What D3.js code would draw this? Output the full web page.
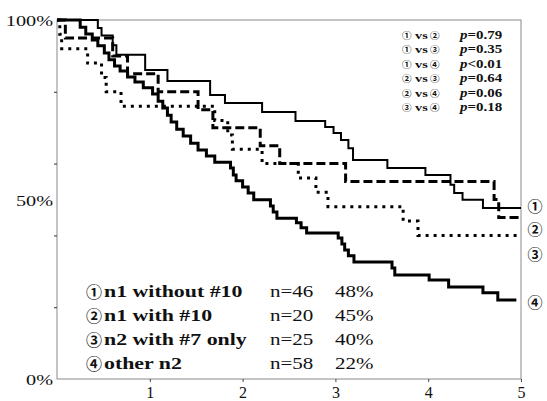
<!DOCTYPE html>
<html>
<head>
<meta charset="utf-8">
<script src="https://cdn.jsdelivr.net/npm/d3@7"></script>
<style>
  body { margin: 0; background: #fff; }
  text { font-family: "Liberation Serif", "Times New Roman", serif; fill: #111; }
  .circ { font-family: "Noto Sans CJK JP", "DejaVu Sans", sans-serif; }
</style>
</head>
<body>
<svg width="547" height="401"></svg>
<script>
// survival steps: [years, proportion surviving]
const group1 = [[0,1],[0.44,0.978],[0.48,0.957],[0.60,0.93],[0.64,0.903],[0.95,0.861],[1.19,0.83],
  [1.65,0.791],[1.81,0.769],[2.21,0.744],[2.57,0.719],[2.89,0.702],[2.98,0.685],[3.06,0.666],
  [3.14,0.643],[3.19,0.61],[3.56,0.588],[3.97,0.568],[4.24,0.541],[4.28,0.518],[4.37,0.499],
  [4.59,0.476],[5,0.476]];
const group2 = [[0,1],[0.09,0.95],[0.60,0.90],[0.76,0.85],[1.09,0.80],[1.52,0.75],[1.68,0.70],
  [2.19,0.65],[2.40,0.60],[3.11,0.55],[4.71,0.50],[4.76,0.45],[5,0.45]];
const group3 = [[0,1],[0.03,0.96],[0.05,0.92],[0.33,0.88],[0.48,0.84],[0.53,0.80],[0.69,0.76],
  [1.70,0.72],[1.84,0.68],[1.89,0.64],[2.21,0.60],[2.60,0.56],[2.79,0.52],[2.92,0.48],
  [3.73,0.44],[3.89,0.40],[5,0.40]];
const group4 = [[0,1],[0.25,0.98],[0.31,0.961],[0.38,0.944],[0.44,0.928],[0.51,0.908],[0.56,0.889],
  [0.62,0.872],[0.68,0.858],[0.76,0.841],[0.84,0.827],[0.93,0.811],[1.03,0.794],[1.09,0.774],
  [1.14,0.755],[1.19,0.735],[1.23,0.716],[1.29,0.696],[1.36,0.677],[1.44,0.657],[1.52,0.638],
  [1.61,0.621],[1.70,0.604],[1.87,0.588],[1.90,0.568],[1.93,0.552],[2.00,0.535],[2.06,0.518],
  [2.12,0.499],[2.30,0.482],[2.33,0.465],[2.37,0.448],[2.58,0.435],[2.63,0.421],[2.69,0.407],
  [3.03,0.393],[3.07,0.376],[3.10,0.359],[3.14,0.343],[3.20,0.326],[3.61,0.309],[3.64,0.29],
  [4.01,0.276],[4.22,0.256],[4.59,0.24],[4.75,0.22],[4.95,0.22]];

const markers = ["①", "②", "③", "④"];
const groupNames = ["n1 without #10", "n1 with #10", "n2 with #7 only", "other n2"];
const groupN = ["n=46", "n=20", "n=25", "n=58"];
const groupPct = ["48%", "45%", "40%", "22%"];
const pairTests = [["①","②","=0.79"],["①","③","=0.35"],["①","④","<0.01"],
  ["②","③","=0.64"],["②","④","=0.06"],["③","④","=0.18"]];
const xTicks = [1, 2, 3, 4, 5];
const yMinorTicks = [0.2, 0.4, 0.6, 0.8];
const yLabels = [[1, "100%"], [0.5, "50%"], [0, "0%"]];

const svg = d3.select("svg");
const x = d3.scaleLinear().domain([0, 5]).range([57, 521]);
const y = d3.scaleLinear().domain([0, 1]).range([379, 20]);

// frame
svg.append("rect")
  .attr("x", x(0)).attr("y", y(1))
  .attr("width", x(5) - x(0)).attr("height", y(0) - y(1))
  .attr("fill", "none").attr("stroke", "#8a8a8a").attr("stroke-width", 1);

// axes
const gx = svg.append("g").attr("transform", `translate(0,${y(0)})`)
  .call(d3.axisBottom(x).tickValues(xTicks).tickSize(3).tickPadding(5).tickFormat(d3.format("d")));
gx.select(".domain").remove();
gx.selectAll("line").attr("stroke", "#444");
gx.selectAll("text").attr("font-size", 16).attr("fill", "#222")
  .style("font-family", '"Liberation Serif", serif');

const gy = svg.append("g").attr("transform", `translate(${x(0)},0)`)
  .call(d3.axisLeft(y).tickValues(yMinorTicks).tickSize(3).tickFormat(""));
gy.select(".domain").remove();
gy.selectAll("line").attr("stroke", "#333");

svg.selectAll(".ylab").data(yLabels).enter().append("text")
  .attr("class", "ylab")
  .attr("transform", d => `translate(53,${y(d[0]) + 6}) scale(1.35,1)`)
  .attr("text-anchor", "end")
  .attr("font-size", 15)
  .attr("fill", "#333")
  .text(d => d[1]);

// curves
const styles = [
  { w: 2, dash: null },
  { w: 3, dash: "9,4" },
  { w: 3, dash: "3,5" },
  { w: 3, dash: null }
];
const line = d3.line().x(d => x(d[0])).y(d => y(d[1])).curve(d3.curveStepAfter);
[group1, group2, group3, group4].forEach((g, i) => {
  svg.append("path")
    .datum(g)
    .attr("d", line)
    .attr("fill", "none")
    .attr("stroke", "#000")
    .attr("stroke-width", styles[i].w)
    .attr("stroke-dasharray", styles[i].dash);
});

// end labels on the right
const endOffsets = [-1, 13, 20, 3];
[group1, group2, group3, group4].forEach((g, i) => {
  const last = g[g.length - 1];
  svg.append("text")
    .attr("class", "circ")
    .attr("x", 535).attr("y", y(last[1]) + endOffsets[i] + 5)
    .attr("text-anchor", "middle")
    .attr("font-size", 15)
    .attr("font-weight", "bold")
    .text(markers[i]);
});

// p-value table
const pt = svg.append("g");
pairTests.forEach((p, i) => {
  const by = 39 + i * 14.4;
  pt.append("text").attr("class", "circ").attr("x", 402).attr("y", by)
    .attr("font-size", 9.5).attr("font-weight", "bold").text(p[0]);
  pt.append("text").attr("transform", `translate(415,${by}) scale(1.3,1)`)
    .attr("font-size", 11).attr("font-weight", "bold").text("vs");
  pt.append("text").attr("class", "circ").attr("x", 430).attr("y", by)
    .attr("font-size", 9.5).attr("font-weight", "bold").text(p[1]);
  const t = pt.append("text").attr("transform", `translate(460,${by}) scale(1.3,1)`)
    .attr("font-size", 11.5).attr("font-weight", "bold");
  t.append("tspan").attr("font-style", "italic").text("p");
  t.append("tspan").text(p[2]);
});

// legend
const lg = svg.append("g");
groupNames.forEach((name, i) => {
  const by = 297 + i * 24;
  lg.append("text").attr("class", "circ").attr("x", 86).attr("y", by + 1)
    .attr("font-size", 16).attr("font-weight", "bold").text(markers[i]);
  lg.append("text").attr("transform", `translate(104,${by}) scale(1.25,1)`)
    .attr("font-size", 17.5).attr("font-weight", "bold").text(name);
  lg.append("text").attr("transform", `translate(270,${by}) scale(1.2,1)`)
    .attr("font-size", 17.5).text(groupN[i]);
  lg.append("text").attr("transform", `translate(335,${by}) scale(1.2,1)`)
    .attr("font-size", 17.5).text(groupPct[i]);
});
</script>
</body>
</html>
